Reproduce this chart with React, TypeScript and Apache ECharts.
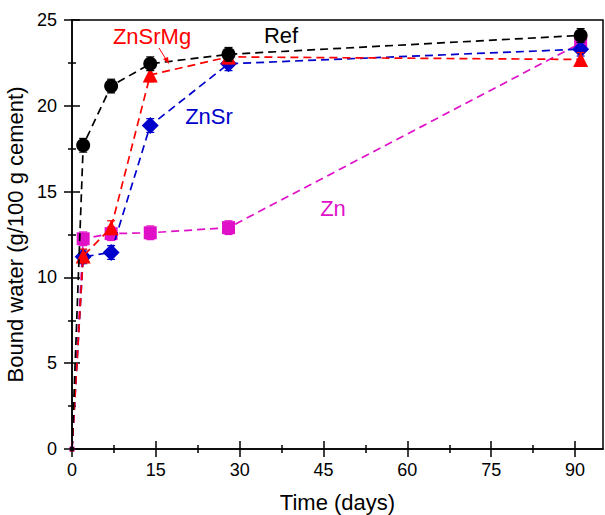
import React, { useEffect, useRef } from "react";
import * as echarts from "echarts";

const days = [0, 2, 7, 14, 28, 91];
const refVals = [0, 17.7, 21.15, 22.45, 23.0, 24.1];
const znsrmgVals = [0, 11.25, 12.9, 21.8, 22.85, 22.7];
const znsrVals = [0, 11.2, 11.45, 18.85, 22.45, 23.3];
const znVals = [0, 12.25, 12.55, 12.6, 12.9, 23.65];
const errVals = [0, 0.4, 0.4, 0.4, 0.4, 0.4];

const xMajorTicks = [0, 15, 30, 45, 60, 75, 90];
const xMinorTicks = [7.5, 22.5, 37.5, 52.5, 67.5, 82.5];

const FONT = "Arial, 'Liberation Sans', sans-serif";

type S = { name: string; vals: number[]; color: string; symbol: string; size: number; z: number };

const seriesDefs: S[] = [
  { name: "Zn", vals: znVals, color: "#e010c8", symbol: "rect", size: 13, z: 2 },
  { name: "ZnSr", vals: znsrVals, color: "#0000cc", symbol: "diamond", size: 17, z: 3 },
  { name: "ZnSrMg", vals: znsrmgVals, color: "#ff0000", symbol: "triangle", size: 15, z: 4 },
  { name: "Ref", vals: refVals, color: "#000000", symbol: "circle", size: 14, z: 5 },
];

export default function App() {
  const ref = useRef<HTMLDivElement>(null);
  useEffect(() => {
    if (!ref.current) return;
    const chart = echarts.init(ref.current, undefined, { renderer: "svg" });

    const baseX = { type: "value", min: 0, max: 95, gridIndex: 0, position: "bottom", splitLine: { show: false } };
    const xAxes: any[] = [
      {
        ...baseX,
        name: "Time (days)",
        nameLocation: "middle",
        nameGap: 42,
        nameTextStyle: { fontFamily: FONT, fontSize: 22, color: "#000" },
        axisLine: { show: true, onZero: false, lineStyle: { color: "#000", width: 1.5 } },
        axisTick: { show: true, inside: false, length: 8, customValues: xMajorTicks, lineStyle: { color: "#000", width: 1.5 } },
        axisLabel: { show: true, customValues: xMajorTicks, margin: 12, fontFamily: FONT, fontSize: 18, color: "#000" },
      },
      {
        ...baseX,
        axisLine: { show: false, onZero: false },
        axisTick: { show: true, inside: true, length: 8, customValues: xMajorTicks, lineStyle: { color: "#000", width: 1.5 } },
        axisLabel: { show: false },
      },
      {
        ...baseX,
        axisLine: { show: false, onZero: false },
        axisTick: { show: true, inside: false, length: 4, customValues: xMinorTicks, lineStyle: { color: "#000", width: 1.5 } },
        axisLabel: { show: false },
      },
      {
        ...baseX,
        axisLine: { show: false, onZero: false },
        axisTick: { show: true, inside: true, length: 4, customValues: xMinorTicks, lineStyle: { color: "#000", width: 1.5 } },
        axisLabel: { show: false },
      },
    ];

    const baseY = { type: "value", min: 0, max: 25, interval: 5, gridIndex: 0, position: "left", splitLine: { show: false } };
    const yAxes: any[] = [
      {
        ...baseY,
        name: "Bound water (g/100 g cement)",
        nameLocation: "middle",
        nameGap: 35,
        nameTextStyle: { fontFamily: FONT, fontSize: 22, color: "#000" },
        axisLine: { show: true, onZero: false, lineStyle: { color: "#000", width: 1.5 } },
        axisTick: { show: true, inside: false, length: 8, lineStyle: { color: "#000", width: 1.5 } },
        minorTick: { show: true, splitNumber: 2, length: 4, lineStyle: { color: "#000", width: 1.5 } },
        axisLabel: { show: true, margin: 15, fontFamily: FONT, fontSize: 18, color: "#000" },
      },
      {
        ...baseY,
        axisLine: { show: false, onZero: false },
        axisTick: { show: true, inside: true, length: 8, lineStyle: { color: "#000", width: 1.5 } },
        minorTick: { show: true, splitNumber: 2, length: 4, lineStyle: { color: "#000", width: 1.5 } },
        axisLabel: { show: false },
      },
    ];

    const series: any[] = [];
    seriesDefs.forEach((d) => {
      series.push({
        type: "custom",
        name: d.name + "-err",
        xAxisIndex: 0,
        yAxisIndex: 0,
        z: d.z,
        silent: true,
        data: days.map((x, i) => [x, d.vals[i], errVals[i]]),
        renderItem: (params: any, api: any) => {
          const x = api.value(0);
          const y = api.value(1);
          const e = api.value(2);
          if (!e) return null;
          const lo = api.coord([x, y - e]);
          const hi = api.coord([x, y + e]);
          const hw = 4;
          const style = { stroke: d.color, lineWidth: 1.2 };
          return {
            type: "group",
            children: [
              { type: "line", shape: { x1: lo[0], y1: lo[1], x2: hi[0], y2: hi[1] }, style },
              { type: "line", shape: { x1: lo[0] - hw, y1: lo[1], x2: lo[0] + hw, y2: lo[1] }, style },
              { type: "line", shape: { x1: hi[0] - hw, y1: hi[1], x2: hi[0] + hw, y2: hi[1] }, style },
            ],
          };
        },
      });
      series.push({
        type: "line",
        name: d.name,
        xAxisIndex: 0,
        yAxisIndex: 0,
        z: d.z,
        symbol: d.symbol,
        symbolSize: d.size,
        showAllSymbol: true,
        clip: true,
        itemStyle: { color: d.color },
        lineStyle: { color: d.color, width: 1.7, type: [8, 5] },
        data: days.map((x, i) => (i === 0 ? { value: [x, d.vals[i]], symbolSize: 5 } : [x, d.vals[i]])),
      });
    });

    const txt = (text: string, x: number, y: number, color: string) => ({
      type: "text",
      x,
      y,
      z: 10,
      style: { text, fill: color, fontFamily: FONT, fontSize: 22, align: "center", verticalAlign: "middle" },
    });

    chart.setOption({
      animation: false,
      grid: {
        left: 72, right: 2, top: 20, bottom: 66,
        containLabel: false, outerBoundsMode: "none",
        show: true, borderColor: "#000", borderWidth: 1.5, backgroundColor: "transparent",
      },
      xAxis: xAxes,
      yAxis: yAxes,
      series,
      graphic: [
        txt("ZnSrMg", 152, 36, "#ff0000"),
        txt("Ref", 281, 35, "#000000"),
        txt("ZnSr", 209, 116, "#0000cc"),
        txt("Zn", 333, 208, "#e010c8"),
        { type: "line", z: 10, shape: { x1: 159, y1: 48, x2: 167, y2: 61 }, style: { stroke: "#ff0000", lineWidth: 1 } },
        { type: "polygon", z: 10, shape: { points: [[169, 64], [163, 59], [168, 57]] }, style: { fill: "#ff0000" } },
      ],
    });
    return () => chart.dispose();
  }, []);
  return <div ref={ref} style={{ position: "absolute", left: 0, top: 0, width: 605, height: 515 }} />;
}
